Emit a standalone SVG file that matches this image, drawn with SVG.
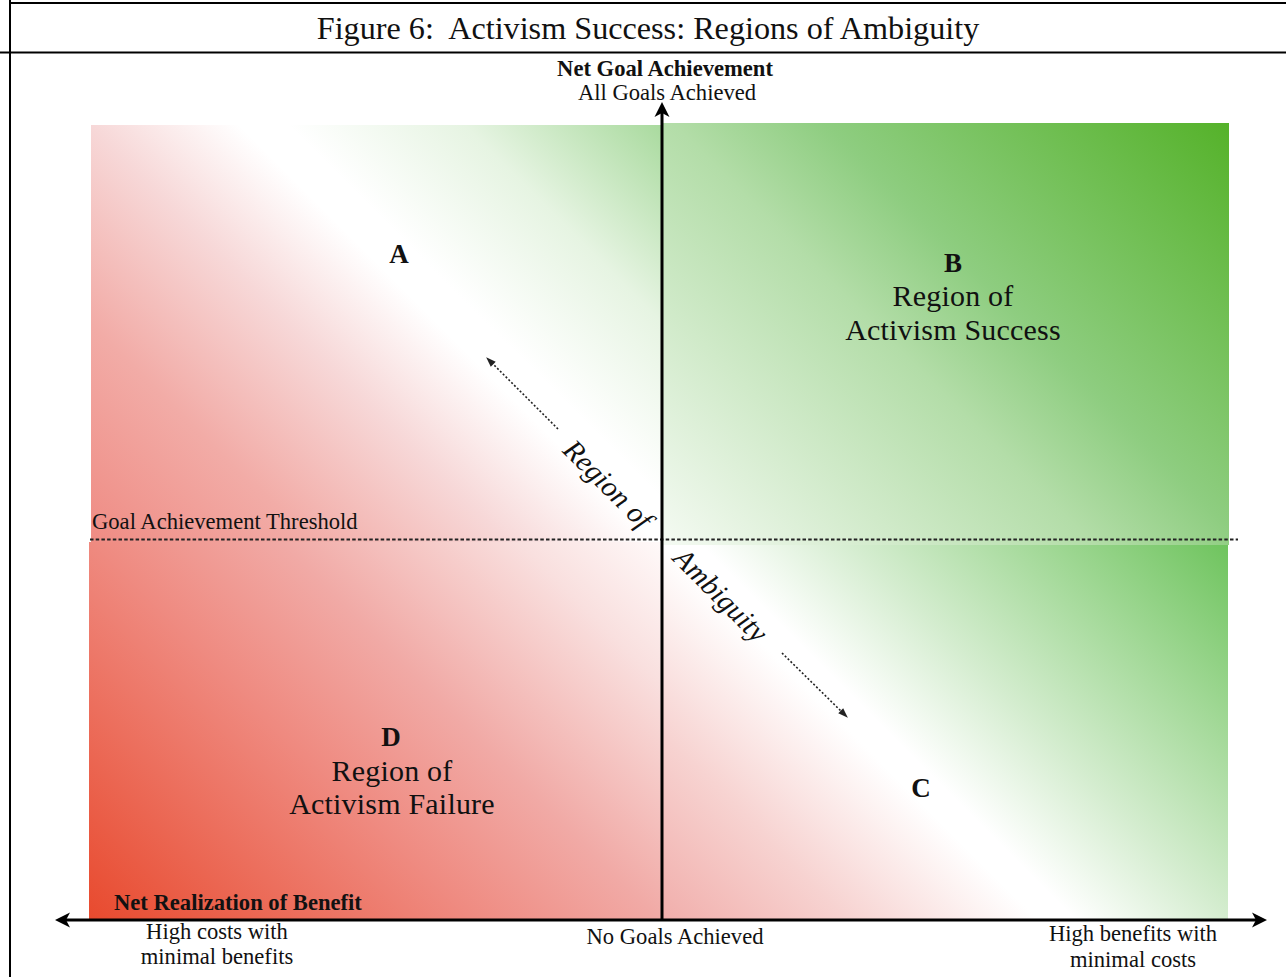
<svg xmlns="http://www.w3.org/2000/svg" width="1286" height="977" viewBox="0 0 1286 977">
<style>
  text { font-family: "Liberation Serif", "Times New Roman", serif; fill: #111; }
  .title { font-size: 32.2px; text-anchor: middle; }
  .lbl { font-size: 22.6px; }
  .mid { text-anchor: middle; }
  .bold { font-weight: bold; }
  .letter { font-size: 27px; font-weight: bold; text-anchor: middle; }
  .region { font-size: 30px; letter-spacing: 0.2px; text-anchor: middle; }
  .amb { font-size: 29px; font-style: italic; text-anchor: middle; }
  .frame { stroke: #000; stroke-width: 2; fill: none; }
  .axis { stroke: #000; stroke-width: 3; fill: none; }
  .thresh { stroke: #222; stroke-width: 1.8; stroke-dasharray: 3.5 2.2; fill: none; }
  .dotarrow { stroke: #222; stroke-width: 1.6; stroke-dasharray: 2 2; fill: none; }
</style>
<defs>
  <linearGradient id="gD" gradientUnits="userSpaceOnUse" x1="0" y1="831" x2="476.5" y2="354.5">
    <stop offset="0" stop-color="#e84a2e"/>
    <stop offset="0.40" stop-color="#ef8a80"/>
    <stop offset="0.60" stop-color="#f1aaa6"/>
    <stop offset="0.85" stop-color="#f9e0df"/>
    <stop offset="1" stop-color="#fffafa"/>
  </linearGradient>
  <linearGradient id="gA" gradientUnits="userSpaceOnUse" x1="0" y1="447" x2="492" y2="-45">
    <stop offset="0" stop-color="#ef8c84"/>
    <stop offset="0.22" stop-color="#f2aca7"/>
    <stop offset="0.42" stop-color="#f7d8d8"/>
    <stop offset="0.57" stop-color="#ffffff"/>
    <stop offset="0.62" stop-color="#ffffff"/>
    <stop offset="0.80" stop-color="#e6f4e2"/>
    <stop offset="1" stop-color="#a9da9e"/>
  </linearGradient>
  <linearGradient id="gB" gradientUnits="userSpaceOnUse" x1="0" y1="-122" x2="491.5" y2="-613.5">
    <stop offset="0" stop-color="#f4faf2"/>
    <stop offset="0.435" stop-color="#b3dda8"/>
    <stop offset="0.59" stop-color="#8ecd80"/>
    <stop offset="1" stop-color="#55b22a"/>
  </linearGradient>
  <linearGradient id="gC" gradientUnits="userSpaceOnUse" x1="0" y1="258" x2="470.5" y2="-212.5">
    <stop offset="0" stop-color="#f1aeab"/>
    <stop offset="0.2" stop-color="#f7d3d1"/>
    <stop offset="0.40" stop-color="#ffffff"/>
    <stop offset="0.44" stop-color="#ffffff"/>
    <stop offset="0.6" stop-color="#d5edd0"/>
    <stop offset="1" stop-color="#6fc45e"/>
  </linearGradient>
  <marker id="axisHead" markerUnits="userSpaceOnUse" markerWidth="30" markerHeight="30" refX="0" refY="0" orient="auto-start-reverse" overflow="visible">
    <path d="M10,0 L-5,-7.5 L-1,0 L-5,7.5 Z" fill="#000"/>
  </marker>
  <marker id="dotHead" markerUnits="userSpaceOnUse" markerWidth="20" markerHeight="20" refX="0" refY="0" orient="auto" overflow="visible">
    <path d="M4,0 L-6,-3.5 L-6,3.5 Z" fill="#222"/>
  </marker>
</defs>

<g id="frame">
  <line class="frame" x1="10" y1="3" x2="1286" y2="3"/>
  <line class="frame" x1="10" y1="0" x2="10" y2="977"/>
  <line class="frame" x1="0" y1="52.5" x2="1286" y2="52.5"/>
  <text class="title" x="648" y="39">Figure 6:&#160; Activism Success: Regions of Ambiguity</text>
</g>

<g id="quadrants">
  <rect id="quadA" x="91" y="125" width="571" height="417" fill="url(#gA)"/>
  <rect id="quadB" x="662" y="123" width="567" height="422" fill="url(#gB)"/>
  <rect id="quadD" x="89" y="542" width="573" height="378" fill="url(#gD)"/>
  <rect id="quadC" x="662" y="545" width="566" height="375" fill="url(#gC)"/>
</g>

<g id="connectors">
  <line class="thresh" x1="90" y1="539.5" x2="1238" y2="539.5"/>
  <line class="axis" x1="662" y1="920" x2="662" y2="112" marker-end="url(#axisHead)"/>
  <line class="axis" x1="65" y1="920" x2="1257" y2="920" marker-start="url(#axisHead)" marker-end="url(#axisHead)"/>
  <line class="dotarrow" x1="558" y1="429" x2="489" y2="360" marker-end="url(#dotHead)"/>
  <line class="dotarrow" x1="782" y1="653" x2="845" y2="715" marker-end="url(#dotHead)"/>
</g>

<g id="axisLabels">
  <text class="lbl mid bold" x="665" y="76">Net Goal Achievement</text>
  <text class="lbl mid" x="667" y="100">All Goals Achieved</text>
  <text class="lbl" x="92" y="529">Goal Achievement Threshold</text>
  <text class="lbl bold" x="114" y="910">Net Realization of Benefit</text>
  <text class="lbl mid" x="217" y="939">High costs with</text>
  <text class="lbl mid" x="217" y="964">minimal benefits</text>
  <text class="lbl mid" x="675" y="944">No Goals Achieved</text>
  <text class="lbl mid" x="1133" y="941">High benefits with</text>
  <text class="lbl mid" x="1133" y="967">minimal costs</text>
</g>

<g id="nodeA">
  <text class="letter" x="399" y="263">A</text>
</g>
<g id="nodeB">
  <text class="letter" x="953" y="272">B</text>
  <text class="region" x="953" y="306">Region of</text>
  <text class="region" x="953" y="340">Activism Success</text>
</g>
<g id="nodeC">
  <text class="letter" x="921" y="797">C</text>
</g>
<g id="nodeD">
  <text class="letter" x="391" y="746">D</text>
  <text class="region" x="392" y="781">Region of</text>
  <text class="region" x="392" y="814">Activism Failure</text>
</g>
<g id="ambiguity">
  <text class="amb" transform="translate(601,491) rotate(45)" x="0" y="0">Region of</text>
  <text class="amb" transform="translate(714,602) rotate(45)" x="0" y="0">Ambiguity</text>
</g>
</svg>
